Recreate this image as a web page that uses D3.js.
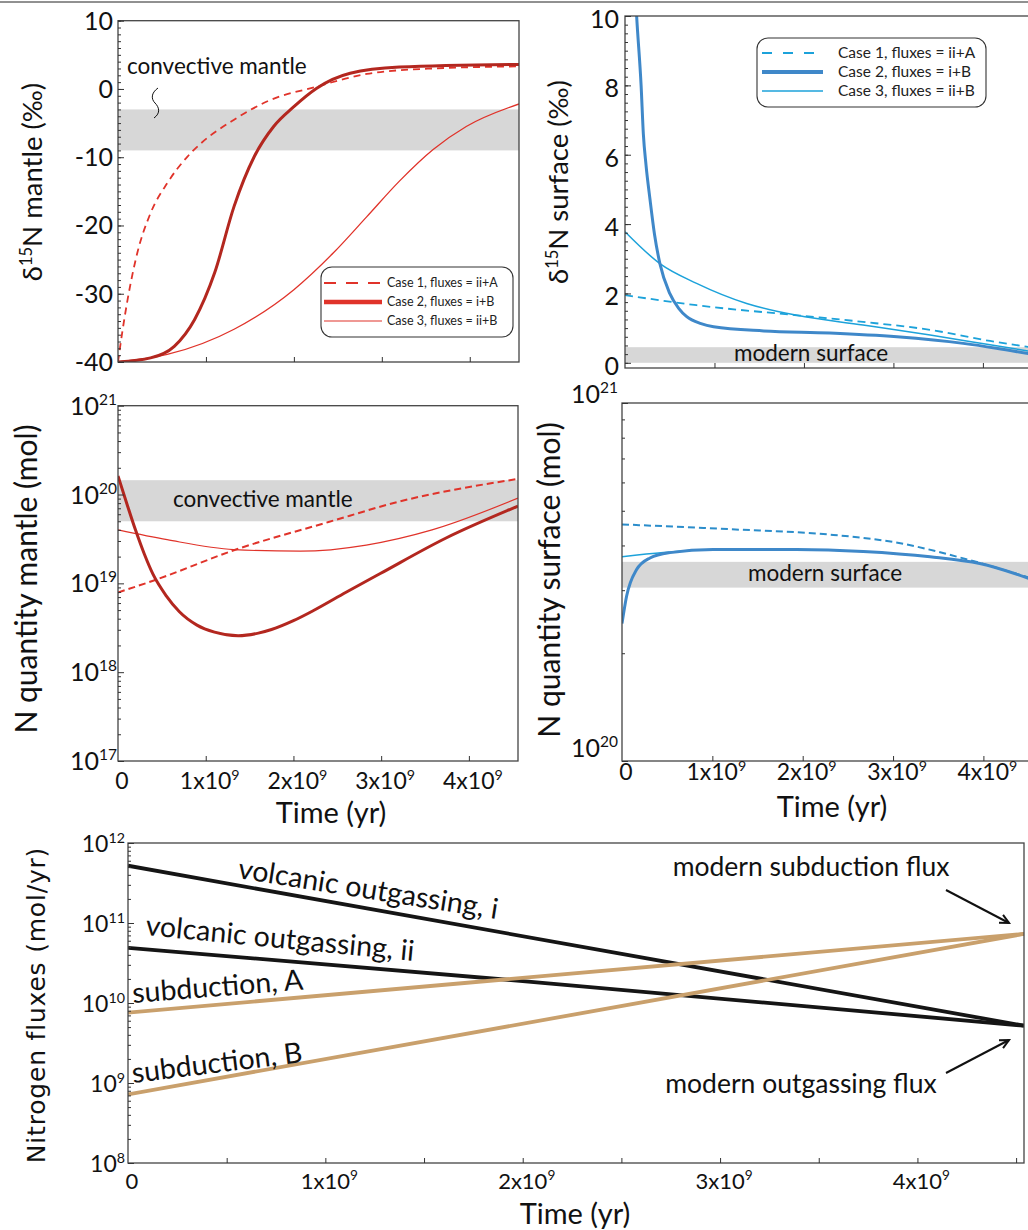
<!DOCTYPE html>
<html>
<head>
<meta charset="utf-8">
<script src="https://cdn.jsdelivr.net/npm/d3@7"></script>
<style>
	body { margin: 0; background: #fff; }
	svg { display: block; font-family: Lato, "Open Sans", sans-serif; }
	.domain { display: none; }
	.tick line { stroke: #333; }
</style>
</head>
<body>
<div id="chart-area"></div>
<script>

// ---- data (time in units of 10^9 yr) ----
const timeTicks = [1, 2, 3, 4];
const fluxTimeTicks = [0.5, 1, 1.5, 2, 2.5, 3, 3.5, 4, 4.5];
const timeLabels = [0, 1, 2, 3, 4];
const mantleD15nTicks = [-40, -30, -20, -10, 0, 10];
const surfaceD15nTicks = [0, 2, 4, 6, 8, 10];
const mantleQtyExp = [17, 18, 19, 20, 21];
const surfaceQtyExp = [20, 21];
const fluxExp = [8, 9, 10, 11, 12];
const caseLabels = ["Case 1, fluxes = ii+A", "Case 2, fluxes = i+B", "Case 3, fluxes = ii+B"];

// delta15N mantle (permil)
const mantleD15nCase1 = [[0,-40],[0.05,-35.5],[0.11,-30.8],[0.22,-24],[0.37,-18.2],[0.56,-13.8],[0.79,-9.9],[0.94,-8.0],[1.32,-4.5],[1.7,-1.8],[2.26,0.35],[2.83,2.2],[3.58,3.0],[4.56,3.3]];
const mantleD15nCase2 = [[0,-40],[0.37,-39.4],[0.64,-37.7],[0.87,-33.8],[1.1,-26.9],[1.32,-17.2],[1.55,-9.9],[1.77,-5.5],[2.0,-2.6],[2.26,0.1],[2.64,2.3],[3.2,3.2],[4.56,3.6]];
const mantleD15nCase3 = [[0,-40],[0.56,-38.9],[1.32,-35.2],[2.0,-29.4],[2.45,-24],[2.83,-18.7],[3.2,-13.5],[3.58,-8.9],[3.96,-5.5],[4.56,-2.2]];
const mantleD15nBand = [-9, -3];

// delta15N surface (permil)
const surfaceD15nCase1 = [[0,1.95],[0.8,1.66],[1.92,1.37],[2.66,1.18],[3.41,0.95],[4.08,0.63],[4.56,0.44]];
const surfaceD15nCase2 = [[0.1,11.5],[0.13,10],[0.18,8],[0.205,6.6],[0.235,5.7],[0.28,4.7],[0.33,3.7],[0.39,2.86],[0.5,2.0],[0.6,1.57],[0.69,1.33],[0.85,1.13],[0.99,1.04],[1.55,0.92],[2.29,0.86],[3.04,0.75],[3.78,0.56],[4.15,0.42],[4.56,0.24]];
const surfaceD15nCase3 = [[0,3.78],[0.39,2.86],[0.8,2.29],[1.36,1.71],[1.92,1.37],[2.66,1.09],[3.41,0.8],[4.08,0.52],[4.56,0.32]];
const surfaceD15nBand = [0, 0.45];

// N quantity mantle (mol)
const mantleQtyCase1 = [[0,7.9e18],[0.4,1.07e19],[1.37,2.45e19],[2.4,4.9e19],[3.2,8.3e19],[4.56,1.5e20]];
const mantleQtyCase2 = [[0,1.62e20],[0.1,7.94e19],[0.2,3.98e19],[0.3,2.14e19],[0.4,1.26e19],[0.55,7.24e18],[0.7,4.79e18],[0.9,3.39e18],[1.1,2.82e18],[1.37,2.57e18],[1.6,2.75e18],[1.75,3.02e18],[2.0,3.8e18],[2.24,5.01e18],[2.6,7.94e18],[2.99,1.29e19],[3.74,3.24e19],[4.56,7.41e19]];
const mantleQtyCase3 = [[0,4.0e19],[0.56,3.1e19],[1.32,2.4e19],[2.08,2.3e19],[2.83,2.7e19],[3.58,4.0e19],[4.56,9.1e19]];
const mantleQtyBand = [5e19, 1.45e20];

// N quantity surface (mol)
const surfaceQtyCase1 = [[0,4.58e20],[1.2,4.44e20],[2.3,4.29e20],[3.05,4.07e20],[3.78,3.68e20],[4.56,3.22e20]];
const surfaceQtyCase2 = [[0,2.42e20],[0.05,2.88e20],[0.16,3.42e20],[0.31,3.69e20],[0.53,3.82e20],[1.01,3.9e20],[1.93,3.9e20],[2.67,3.85e20],[3.41,3.72e20],[3.96,3.56e20],[4.56,3.2e20]];
const surfaceQtyCase3 = [[0,3.72e20],[0.46,3.82e20],[1.01,3.9e20],[1.93,3.9e20],[2.67,3.85e20],[3.41,3.72e20],[3.96,3.56e20],[4.56,3.2e20]];
const surfaceQtyBand = [3.05e20, 3.6e20];

// nitrogen fluxes (mol/yr)
const fluxVolcanicI = [[0,5.2e11],[4.54,5.2e9]];
const fluxVolcanicII = [[0,4.9e10],[2,1.88e10],[4.54,5.2e9]];
const fluxSubductionA = [[0,7.6e9],[4.54,7.3e10]];
const fluxSubductionB = [[0,7.2e8],[4.54,7.3e10]];

let width = 1028,
	height = 1230;

let svg = d3.select("#chart-area")
	.append("svg")
	.attr("width", width)
	.attr("height", height);

// thin rule across the top of the figure
svg.append("line")
	.attr("x1", 0).attr("x2", width)
	.attr("y1", 2).attr("y2", 2)
	.attr("stroke", "#222").attr("stroke-width", 1);

const red = "#e0332a", darkRed = "#b3271f";
const cyan = "#1ca2da", blue = "#3f88c9";

// scales
let xTL = d3.scaleLinear().domain([0, 4.56]).range([118, 519]);
let yTL = d3.scaleLinear().domain([-40, 10]).range([362, 20.7]);
let xTR = d3.scaleLinear().domain([0, 4.56]).range([625, 1033]);
let yTR = d3.scaleLinear().domain([-0.15, 10]).range([368, 16]);
let xML = d3.scaleLinear().domain([0, 4.56]).range([118, 518]);
let yML = d3.scaleLog().domain([1e17, 1e21]).range([761, 405.7]);
let xMR = d3.scaleLinear().domain([0, 4.56]).range([622, 1034]);
let yMR = d3.scaleLog().domain([1e20, 1e21]).range([761, 403]);
let xB = d3.scaleLinear().domain([0, 4.54]).range([128, 1024]);
let yB = d3.scaleLog().domain([1e8, 1e12]).range([1163, 843]);

function logMinor(lo, hi) {
	let out = [];
	for (let e = lo; e < hi; e++) {
		for (let m = 2; m <= 9; m++) out.push(m * Math.pow(10, e));
	}
	return out;
}

function panel(id, x, y) {
	let [x0, x1] = x.range(), [y0, y1] = y.range();
	svg.append("clipPath").attr("id", id)
		.append("rect")
		.attr("x", x0).attr("y", y1)
		.attr("width", x1 - x0).attr("height", y0 - y1);
	let g = svg.append("g");
	let plot = g.append("g").attr("clip-path", "url(#" + id + ")");
	return { g: g, plot: plot, x0: x0, x1: x1, top: y1, bottom: y0 };
}

function frame(p) {
	p.g.append("rect")
		.attr("x", p.x0).attr("y", p.top)
		.attr("width", p.x1 - p.x0).attr("height", p.bottom - p.top)
		.attr("fill", "none").attr("stroke", "#444").attr("stroke-width", 1.3);
}

function yTicks(p, scale, major, minor) {
	p.g.append("g").attr("transform", "translate(" + p.x0 + ",0)")
		.call(d3.axisLeft(scale).tickValues(minor).tickSize(-3).tickFormat(""));
	p.g.append("g").attr("transform", "translate(" + p.x0 + ",0)")
		.call(d3.axisLeft(scale).tickValues(major).tickSize(-6).tickFormat(""));
}

function xTicks(p, scale, ticks) {
	p.g.append("g").attr("transform", "translate(0," + p.bottom + ")")
		.call(d3.axisBottom(scale).tickValues(ticks).tickSize(-5).tickFormat(""));
}

function band(p, y, range, fill) {
	p.plot.append("rect")
		.attr("x", p.x0).attr("width", p.x1 - p.x0)
		.attr("y", y(range[1])).attr("height", y(range[0]) - y(range[1]))
		.attr("fill", fill || "#d7d7d7");
}

function curve(p, x, y, data, color, w, dash) {
	p.plot.append("path")
		.datum(data)
		.attr("fill", "none")
		.attr("stroke", color)
		.attr("stroke-width", w)
		.attr("stroke-dasharray", dash || null)
		.attr("stroke-linejoin", "round")
		.attr("d", d3.line()
			.x(d => x(d[0]))
			.y(d => y(d[1]))
			.curve(d3.curveMonotoneX));
}

function supText(sel, base, exp, size) {
	sel.append("tspan").text(base);
	sel.append("tspan").attr("font-size", size * 0.62).attr("dy", -size * 0.4).text(exp);
}

function timeLabelsAt(p, x, baseline, size) {
	timeLabels.forEach(t => {
		let txt = p.g.append("text")
			.attr("x", x(t) + 4)
			.attr("y", baseline)
			.attr("text-anchor", "middle")
			.attr("font-size", size)
			.attr("fill", "#111");
		if (t === 0) txt.text("0");
		else supText(txt, t + "x10", "9", size);
	});
}

function yTitle(x, y, parts, size, family, spacing) {
	let txt = svg.append("text")
		.attr("transform", "translate(" + x + "," + y + ") rotate(-90)")
		.attr("text-anchor", "middle")
		.attr("font-size", size)
		.attr("fill", "#111");
	if (family) txt.attr("font-family", family);
	if (spacing) txt.attr("letter-spacing", spacing);
	parts.forEach(pt => {
		let ts = txt.append("tspan").text(pt.t);
		if (pt.sup) ts.attr("font-size", size * 0.6).attr("dy", -size * 0.38);
		if (pt.down) ts.attr("dy", size * 0.38);
	});
}

function legend(p, box, colors, widths, dashes, size) {
	let g = p.g.append("g");
	g.append("rect")
		.attr("x", box.x).attr("y", box.y)
		.attr("width", box.w).attr("height", box.h)
		.attr("rx", 11).attr("ry", 11)
		.attr("fill", "#fff").attr("stroke", "#333").attr("stroke-width", 1.1);
	caseLabels.forEach((lab, i) => {
		let yy = box.rows[i];
		g.append("line")
			.attr("x1", box.l1).attr("x2", box.l2)
			.attr("y1", yy).attr("y2", yy)
			.attr("stroke", colors[i]).attr("stroke-width", widths[i])
			.attr("stroke-dasharray", dashes[i]);
		g.append("text")
			.attr("x", box.tx).attr("y", yy)
			.attr("dy", "0.35em")
			.attr("font-size", size)
			.attr("fill", "#222")
			.text(lab);
	});
}

// ---------- top left: delta15N mantle ----------
let pTL = panel("clipTL", xTL, yTL);
band(pTL, yTL, mantleD15nBand);
curve(pTL, xTL, yTL, mantleD15nCase3, red, 1.3);
curve(pTL, xTL, yTL, mantleD15nCase1, red, 1.8, "7,5");
curve(pTL, xTL, yTL, mantleD15nCase2, darkRed, 3);
frame(pTL);
yTicks(pTL, yTL, mantleD15nTicks, d3.range(-40, 10.01, 1));
xTicks(pTL, xTL, timeTicks);
mantleD15nTicks.forEach(v => {
	pTL.g.append("text")
		.attr("x", 113).attr("y", yTL(v))
		.attr("dy", "0.36em")
		.attr("text-anchor", "end")
		.attr("font-size", 25).attr("fill", "#111")
		.text(v);
});
pTL.g.append("text")
	.attr("x", 127).attr("y", 74)
	.attr("font-size", 22.5).attr("fill", "#111")
	.text("convective mantle");
pTL.g.append("path")
	.attr("d", "M158,88 C151,93 151,99 155,103 C159,107 161,113 154,118")
	.attr("fill", "none").attr("stroke", "#111").attr("stroke-width", 1);
legend(pTL, { x: 321, y: 267, w: 192, h: 70, rows: [283, 302, 321], l1: 324, l2: 382, tx: 387 },
	[red, red, red], [2, 4.5, 1.2], ["12,10", null, null], 12.5);
yTitle(42, 182, [{ t: "δ" }, { t: "15", sup: true }, { t: "N mantle (‰)", down: true }], 27.5);

// ---------- top right: delta15N surface ----------
let pTR = panel("clipTR", xTR, yTR);
band(pTR, yTR, surfaceD15nBand);
pTR.plot.append("text")
	.attr("x", 811).attr("y", 361)
	.attr("text-anchor", "middle")
	.attr("font-size", 22.5).attr("fill", "#111")
	.text("modern surface");
curve(pTR, xTR, yTR, surfaceD15nCase1, cyan, 1.8, "8,5");
curve(pTR, xTR, yTR, surfaceD15nCase3, cyan, 1.5);
curve(pTR, xTR, yTR, surfaceD15nCase2, blue, 3);
frame(pTR);
yTicks(pTR, yTR, surfaceD15nTicks, d3.range(0, 10.01, 0.25));
xTicks(pTR, xTR, timeTicks);
surfaceD15nTicks.forEach(v => {
	pTR.g.append("text")
		.attr("x", 619).attr("y", yTR(v) + 3)
		.attr("dy", "0.36em")
		.attr("text-anchor", "end")
		.attr("font-size", 25).attr("fill", "#111")
		.text(v);
});
legend(pTR, { x: 757, y: 38, w: 229, h: 69, rows: [53, 72, 91], l1: 762, l2: 823, tx: 838 },
	[cyan, blue, cyan], [1.8, 4, 1.3], ["10,11", null, null], 15.5);
yTitle(568, 182, [{ t: "δ" }, { t: "15", sup: true }, { t: "N surface (‰)", down: true }], 27.5);

// ---------- middle left: N quantity mantle ----------
let pML = panel("clipML", xML, yML);
band(pML, yML, mantleQtyBand);
pML.plot.append("text")
	.attr("x", 173).attr("y", 507)
	.attr("font-size", 22.5).attr("fill", "#111")
	.text("convective mantle");
curve(pML, xML, yML, mantleQtyCase3, red, 1.2);
curve(pML, xML, yML, mantleQtyCase1, red, 2, "7,4");
curve(pML, xML, yML, mantleQtyCase2, darkRed, 3);
frame(pML);
yTicks(pML, yML, mantleQtyExp.map(e => Math.pow(10, e)), logMinor(17, 21));
xTicks(pML, xML, timeTicks);
mantleQtyExp.forEach(e => {
	let txt = pML.g.append("text")
		.attr("x", 117).attr("y", yML(Math.pow(10, e)) + 9)
		.attr("text-anchor", "end")
		.attr("font-size", 25).attr("fill", "#111");
	supText(txt, "10", e, 25);
});
timeLabelsAt(pML, xML, 789, 23);
pML.g.append("text")
	.attr("x", 331).attr("y", 823)
	.attr("text-anchor", "middle")
	.attr("font-size", 29).attr("fill", "#111")
	.text("Time (yr)");
yTitle(37, 579, [{ t: "N quantity mantle (mol)" }], 30);

// ---------- middle right: N quantity surface ----------
let pMR = panel("clipMR", xMR, yMR);
band(pMR, yMR, surfaceQtyBand);
pMR.plot.append("text")
	.attr("x", 825).attr("y", 581)
	.attr("text-anchor", "middle")
	.attr("font-size", 22.5).attr("fill", "#111")
	.text("modern surface");
curve(pMR, xMR, yMR, surfaceQtyCase1, "#2b8dcb", 2, "7,4");
curve(pMR, xMR, yMR, surfaceQtyCase3, cyan, 1.5);
curve(pMR, xMR, yMR, surfaceQtyCase2, blue, 3);
frame(pMR);
yTicks(pMR, yMR, surfaceQtyExp.map(e => Math.pow(10, e)), logMinor(20, 21));
xTicks(pMR, xMR, timeTicks);
surfaceQtyExp.forEach(e => {
	let txt = pMR.g.append("text")
		.attr("x", 618).attr("y", yMR(Math.pow(10, e)) + (e === 21 ? 0 : -4))
		.attr("text-anchor", "end")
		.attr("font-size", 25).attr("fill", "#111");
	supText(txt, "10", e, 25);
});
timeLabelsAt(pMR, xMR, 780, 23);
pMR.g.append("text")
	.attr("x", 832).attr("y", 817)
	.attr("text-anchor", "middle")
	.attr("font-size", 29).attr("fill", "#111")
	.text("Time (yr)");
yTitle(560, 580, [{ t: "N quantity surface (mol)" }], 30);

// ---------- bottom: nitrogen fluxes ----------
let pB = panel("clipB", xB, yB);
const black = "#151515", tan = "#c9a06c";
curve(pB, xB, yB, fluxVolcanicI, black, 3.8);
curve(pB, xB, yB, fluxVolcanicII, black, 3.8);
curve(pB, xB, yB, fluxSubductionA, tan, 3.8);
curve(pB, xB, yB, fluxSubductionB, tan, 3.8);
frame(pB);
yTicks(pB, yB, fluxExp.map(e => Math.pow(10, e)), logMinor(8, 12));
xTicks(pB, xB, fluxTimeTicks);
fluxExp.forEach(e => {
	let txt = pB.g.append("text")
		.attr("x", 125).attr("y", yB(Math.pow(10, e)) + 9)
		.attr("text-anchor", "end")
		.attr("font-size", 23).attr("fill", "#111");
	supText(txt, "10", e, 23);
});
timeLabelsAt(pB, xB, 1189, 22);
pB.g.append("text")
	.attr("x", 575).attr("y", 1224)
	.attr("text-anchor", "middle")
	.attr("font-size", 29).attr("fill", "#111")
	.text("Time (yr)");
yTitle(45, 1005, [{ t: "Nitrogen fluxes (mol/yr)" }], 25, "'DejaVu Sans', sans-serif", 0.8);

// line labels
const lineLabels = [
	{ t: "volcanic outgassing, i", x: 237, y: 878, a: 9 },
	{ t: "volcanic outgassing, ii", x: 145, y: 935, a: 5.5 },
	{ t: "subduction, A", x: 133, y: 1003, a: -4.5 },
	{ t: "subduction, B", x: 133, y: 1083, a: -7 }
];
lineLabels.forEach(l => {
	pB.g.append("text")
		.attr("transform", "translate(" + l.x + "," + l.y + ") rotate(" + l.a + ")")
		.attr("font-size", 28.5).attr("fill", "#111")
		.text(l.t);
});
pB.g.append("text")
	.attr("x", 811).attr("y", 876)
	.attr("text-anchor", "middle")
	.attr("font-size", 26.5).attr("fill", "#111")
	.text("modern subduction flux");
pB.g.append("text")
	.attr("x", 801).attr("y", 1093)
	.attr("text-anchor", "middle")
	.attr("font-size", 26.5).attr("fill", "#111")
	.text("modern outgassing flux");

// arrows toward the modern flux values
function arrow(x1, y1, x2, y2) {
	let ang = Math.atan2(y2 - y1, x2 - x1), len = 10, spread = 0.45;
	let g = pB.g.append("g").attr("stroke", "#111").attr("stroke-width", 2).attr("fill", "none");
	g.append("line").attr("x1", x1).attr("y1", y1).attr("x2", x2).attr("y2", y2);
	g.append("path").attr("d",
		"M" + (x2 - len * Math.cos(ang - spread)) + "," + (y2 - len * Math.sin(ang - spread)) +
		"L" + x2 + "," + y2 +
		"L" + (x2 - len * Math.cos(ang + spread)) + "," + (y2 - len * Math.sin(ang + spread)));
}
arrow(946, 890, 1009, 923);
arrow(946, 1073, 1009, 1040);

</script>
</body>
</html>
